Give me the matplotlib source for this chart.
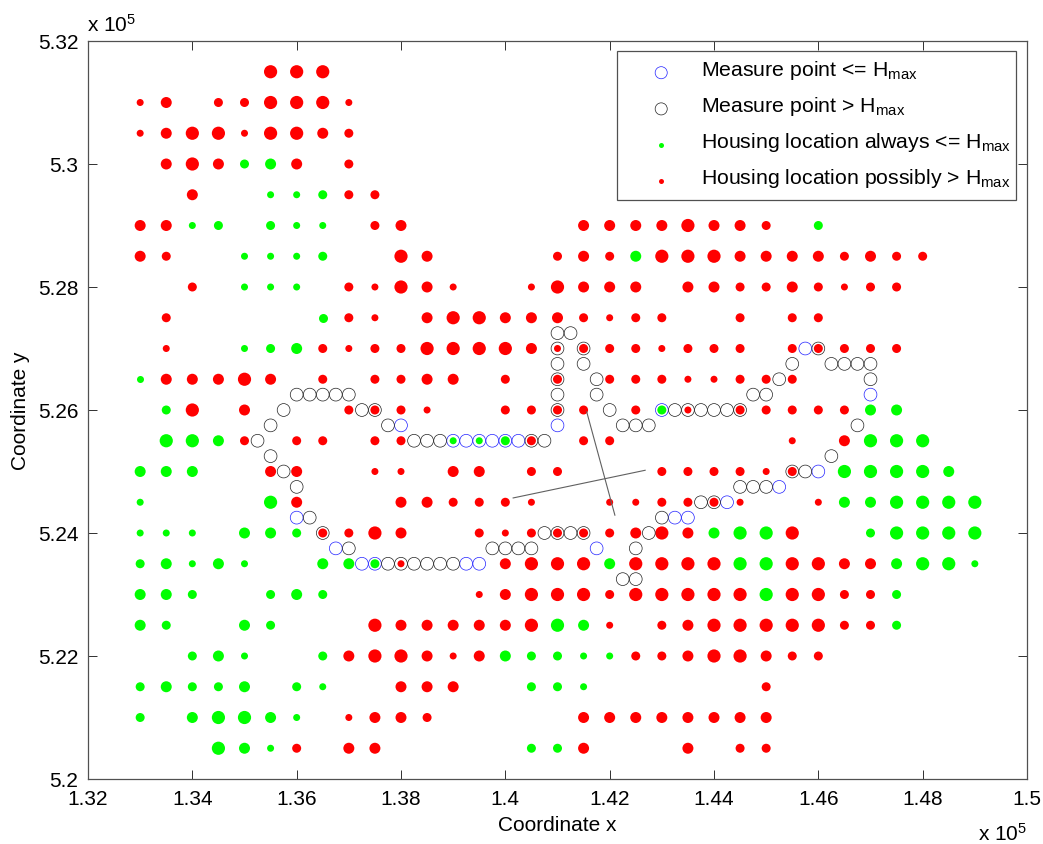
import matplotlib
matplotlib.use('Agg')
import matplotlib.pyplot as plt
from matplotlib.patches import Rectangle

plt.rcParams['font.family'] = ['Liberation Sans', 'DejaVu Sans']
plt.rcParams['mathtext.fontset'] = 'custom'
plt.rcParams['mathtext.rm'] = 'Liberation Sans'
plt.rcParams['mathtext.default'] = 'rm'

# coordinates are in hundreds, sizes are a class from 1 (small) to 4 (big)
red_rows = [
    (5315, [(1355, 4), (1360, 4), (1365, 4)]),
    (5310, [(1330, 1), (1335, 3), (1345, 2), (1350, 2), (1355, 4), (1360, 4), (1365, 4), (1370, 1)]),
    (5305, [(1330, 1), (1335, 3), (1340, 4), (1345, 4), (1350, 1), (1355, 4), (1360, 4), (1365, 3), (1370, 2)]),
    (5300, [(1335, 3), (1340, 4), (1345, 3), (1360, 3), (1370, 2)]),
    (5295, [(1340, 3), (1370, 2), (1375, 2)]),
    (5290, [(1330, 3), (1335, 3), (1375, 2), (1380, 3), (1415, 3), (1420, 3), (1425, 3), (1430, 3),
            (1435, 4), (1440, 3), (1445, 3), (1450, 2)]),
    (5285, [(1330, 3), (1335, 2), (1380, 4), (1385, 3), (1410, 2), (1415, 3), (1420, 2), (1430, 4),
            (1435, 4), (1440, 4), (1445, 3), (1450, 3), (1455, 3), (1460, 3), (1465, 2), (1470, 3),
            (1475, 2), (1480, 2)]),
    (5280, [(1340, 2), (1370, 2), (1375, 1), (1380, 4), (1385, 3), (1390, 1), (1405, 1), (1410, 4),
            (1415, 3), (1420, 3), (1425, 3), (1435, 3), (1440, 3), (1445, 2), (1450, 2), (1455, 3),
            (1460, 2), (1465, 1), (1470, 2), (1475, 2)]),
    (5275, [(1335, 2), (1370, 2), (1375, 1), (1385, 3), (1390, 4), (1395, 4), (1400, 3), (1405, 3),
            (1410, 3), (1415, 2), (1420, 1), (1425, 2), (1430, 2), (1445, 2), (1455, 2), (1460, 2)]),
    (5270, [(1335, 1), (1365, 2), (1370, 1), (1375, 2), (1380, 2), (1385, 4), (1390, 4), (1395, 4),
            (1400, 4), (1405, 3), (1410, 1), (1415, 2), (1420, 2), (1425, 2), (1430, 1), (1435, 2),
            (1440, 2), (1445, 2), (1455, 2), (1460, 2), (1465, 2), (1470, 2), (1475, 2)]),
    (5265, [(1335, 3), (1340, 3), (1345, 3), (1350, 4), (1355, 3), (1365, 2), (1375, 2), (1380, 2),
            (1385, 3), (1390, 3), (1400, 2), (1410, 2), (1420, 2), (1425, 2), (1430, 2), (1435, 1),
            (1440, 1), (1445, 2), (1450, 2), (1455, 2)]),
    (5260, [(1340, 4), (1350, 3), (1370, 2), (1375, 2), (1380, 2), (1385, 1), (1400, 2), (1405, 2),
            (1410, 2), (1415, 2), (1425, 2), (1435, 1), (1445, 2), (1450, 2), (1455, 2), (1460, 2),
            (1465, 2)]),
    (5255, [(1350, 2), (1360, 2), (1365, 2), (1375, 2), (1380, 2), (1405, 2), (1415, 2), (1420, 2),
            (1455, 1), (1465, 3)]),
    (5250, [(1355, 3), (1360, 3), (1375, 1), (1380, 1), (1390, 3), (1395, 3), (1405, 2), (1410, 2),
            (1430, 2), (1435, 2), (1440, 2), (1445, 2), (1450, 1), (1455, 2)]),
    (5245, [(1360, 3), (1380, 3), (1385, 3), (1390, 2), (1395, 2), (1400, 2), (1405, 1), (1420, 1),
            (1425, 1), (1430, 2), (1435, 2), (1440, 2), (1445, 1), (1460, 1)]),
    (5240, [(1365, 2), (1370, 2), (1375, 4), (1380, 3), (1395, 2), (1400, 1), (1405, 2), (1410, 2),
            (1415, 2), (1420, 2), (1425, 3), (1430, 4), (1435, 3), (1455, 4)]),
    (5235, [(1380, 1), (1400, 3), (1405, 4), (1410, 4), (1415, 4), (1425, 4), (1430, 4), (1435, 4),
            (1440, 4), (1455, 4), (1460, 4), (1465, 3), (1470, 3)]),
    (5230, [(1395, 1), (1400, 3), (1405, 4), (1410, 4), (1415, 4), (1420, 2), (1425, 4), (1430, 4),
            (1435, 4), (1440, 4), (1445, 4), (1455, 4), (1460, 4), (1465, 2), (1470, 2)]),
    (5225, [(1375, 4), (1380, 3), (1385, 3), (1390, 3), (1395, 3), (1400, 3), (1405, 4), (1420, 1),
            (1430, 2), (1435, 3), (1440, 4), (1445, 4), (1450, 4), (1455, 4), (1460, 4), (1465, 2),
            (1470, 2)]),
    (5220, [(1370, 3), (1375, 4), (1380, 4), (1385, 3), (1390, 1), (1395, 3), (1425, 2), (1430, 2),
            (1435, 3), (1440, 4), (1445, 4), (1450, 3), (1455, 2), (1460, 2)]),
    (5215, [(1380, 3), (1385, 3), (1390, 3), (1450, 2)]),
    (5210, [(1370, 1), (1375, 3), (1380, 3), (1385, 2), (1415, 3), (1420, 3), (1425, 3), (1430, 3),
            (1435, 3), (1440, 3), (1445, 3), (1450, 3)]),
    (5205, [(1360, 2), (1370, 3), (1375, 3), (1415, 3), (1435, 3), (1445, 2), (1450, 2)]),
]

green_rows = [
    (5300, [(1350, 2), (1355, 3)]),
    (5295, [(1355, 1), (1360, 1), (1365, 2)]),
    (5290, [(1340, 1), (1345, 2), (1355, 2), (1360, 1), (1365, 1), (1460, 2)]),
    (5285, [(1350, 1), (1355, 1), (1360, 1), (1365, 2), (1425, 3)]),
    (5280, [(1350, 1), (1355, 1), (1360, 1)]),
    (5275, [(1365, 2)]),
    (5270, [(1350, 1), (1355, 2), (1360, 3)]),
    (5265, [(1330, 1)]),
    (5260, [(1335, 2), (1430, 2), (1470, 3), (1475, 3)]),
    (5255, [(1335, 4), (1340, 4), (1345, 3), (1390, 1), (1395, 1), (1400, 2), (1470, 4), (1475, 4), (1480, 4)]),
    (5250, [(1330, 3), (1335, 3), (1340, 3), (1465, 4), (1470, 4), (1475, 4), (1480, 4), (1485, 3)]),
    (5245, [(1330, 1), (1355, 4), (1465, 3), (1470, 3), (1475, 4), (1480, 4), (1485, 4), (1490, 4)]),
    (5240, [(1330, 1), (1335, 1), (1340, 1), (1350, 3), (1355, 3), (1360, 2), (1440, 3), (1445, 4),
            (1450, 4), (1470, 2), (1475, 4), (1480, 4), (1485, 4), (1490, 4)]),
    (5235, [(1330, 2), (1335, 3), (1340, 1), (1345, 3), (1350, 1), (1365, 3), (1370, 3), (1375, 2),
            (1420, 3), (1445, 4), (1450, 4), (1475, 3), (1480, 4), (1485, 4), (1490, 1)]),
    (5230, [(1330, 3), (1335, 3), (1340, 2), (1355, 2), (1360, 3), (1365, 2), (1450, 4), (1475, 2)]),
    (5225, [(1330, 3), (1335, 2), (1350, 3), (1355, 2), (1410, 4), (1415, 3), (1475, 2)]),
    (5220, [(1340, 2), (1345, 3), (1350, 1), (1365, 2), (1400, 3), (1405, 2), (1410, 2), (1415, 1), (1420, 1)]),
    (5215, [(1330, 2), (1335, 3), (1340, 2), (1345, 2), (1350, 3), (1360, 2), (1365, 1), (1405, 2), (1410, 2), (1415, 1)]),
    (5210, [(1330, 2), (1340, 3), (1345, 4), (1350, 4), (1355, 3), (1360, 1)]),
    (5205, [(1345, 4), (1350, 3), (1355, 1), (1405, 2), (1410, 2)]),
]

blue_x = [1380, 1390, 1392.5, 1395, 1397.5, 1400, 1402.5, 1360, 1367.5, 1372.5, 1375, 1392.5, 1395,
          1417.5, 1410, 1430, 1442.5, 1432.5, 1435, 1452.5, 1460, 1470, 1457.5]
blue_y = [5257.5, 5255, 5255, 5255, 5255, 5255, 5255, 5242.5, 5237.5, 5235, 5235, 5235, 5235,
          5237.5, 5257.5, 5260, 5245, 5242.5, 5242.5, 5247.5, 5250, 5262.5, 5270]

black_x = [1360, 1362.5, 1365, 1367.5, 1370, 1357.5, 1372.5, 1375, 1355, 1377.5, 1352.5, 1382.5, 1385,
           1387.5, 1405, 1407.5, 1355, 1357.5, 1360, 1362.5, 1365, 1370, 1377.5, 1380, 1382.5, 1385,
           1387.5, 1390, 1397.5, 1400, 1402.5, 1405, 1425, 1407.5, 1410, 1412.5, 1415, 1427.5, 1422.5,
           1425, 1410, 1412.5, 1410, 1415, 1410, 1415, 1410, 1417.5, 1410, 1417.5, 1410, 1420, 1432.5,
           1435, 1437.5, 1440, 1442.5, 1445, 1422.5, 1425, 1427.5, 1437.5, 1440, 1430, 1445, 1447.5,
           1450, 1455, 1457.5, 1462.5, 1467.5, 1447.5, 1450, 1470, 1452.5, 1455, 1462.5, 1465, 1467.5,
           1470, 1460]
black_y = [5262.5, 5262.5, 5262.5, 5262.5, 5262.5, 5260, 5260, 5260, 5257.5, 5257.5, 5255, 5255, 5255,
           5255, 5255, 5255, 5252.5, 5250, 5247.5, 5242.5, 5240, 5237.5, 5235, 5235, 5235, 5235,
           5235, 5235, 5237.5, 5237.5, 5237.5, 5237.5, 5237.5, 5240, 5240, 5240, 5240, 5240, 5232.5,
           5232.5, 5272.5, 5272.5, 5270, 5270, 5267.5, 5267.5, 5265, 5265, 5262.5, 5262.5, 5260, 5260, 5260,
           5260, 5260, 5260, 5260, 5260, 5257.5, 5257.5, 5257.5, 5245, 5245, 5242.5, 5247.5, 5247.5,
           5247.5, 5250, 5250, 5252.5, 5257.5, 5262.5, 5262.5, 5265, 5265, 5267.5, 5267.5, 5267.5, 5267.5,
           5267.5, 5270]

line1_x = [1401.5, 1426.8]
line1_y = [5245.7, 5250.2]
line2_x = [1415.6, 1421.0]
line2_y = [5259.7, 5242.9]

x_ticks = [132000, 134000, 136000, 138000, 140000, 142000, 144000, 146000, 148000, 150000]
x_labels = ['1.32', '1.34', '1.36', '1.38', '1.4', '1.42', '1.44', '1.46', '1.48', '1.5']
y_ticks = [520000, 522000, 524000, 526000, 528000, 530000, 532000]
y_labels = ['5.2', '5.22', '5.24', '5.26', '5.28', '5.3', '5.32']

# marker diameter in pixels -> area in points^2
area = {1: (7 * 0.72) ** 2, 2: (9 * 0.72) ** 2, 3: (11 * 0.72) ** 2, 4: (13.2 * 0.72) ** 2}
ring_area = (12.8 * 0.72) ** 2


def draw_rows(ax, rows, color):
    for y, pts in rows:
        xs = [p[0] * 100 for p in pts]
        ys = [y * 100] * len(pts)
        ax.scatter(xs, ys, s=[area[p[1]] for p in pts], c=color, linewidths=0, zorder=2)


W, H = 1043, 845
fig = plt.figure(figsize=(W / 100, H / 100), dpi=100)
ax = fig.add_axes([88 / W, 1 - 780 / H, (1027 - 88) / W, (780 - 42) / H])

draw_rows(ax, red_rows, '#ff0000')
draw_rows(ax, green_rows, '#00ff00')

blue_ring = ax.scatter([v * 100 for v in blue_x], [v * 100 for v in blue_y], s=ring_area,
                       facecolors='none', edgecolors='#2020ff', linewidths=0.5, zorder=3)
black_ring = ax.scatter([v * 100 for v in black_x], [v * 100 for v in black_y], s=ring_area,
                        facecolors='none', edgecolors='#202020', linewidths=0.5, zorder=3)

ax.plot([v * 100 for v in line1_x], [v * 100 for v in line1_y], color='#606060', lw=0.8, zorder=4)
ax.plot([v * 100 for v in line2_x], [v * 100 for v in line2_y], color='#606060', lw=0.8, zorder=4)

ax.set_xlim(132000, 150000)
ax.set_ylim(520000, 532000)
ax.set_xticks(x_ticks)
ax.set_xticklabels(x_labels)
ax.set_yticks(y_ticks)
ax.set_yticklabels(y_labels)
ax.tick_params(direction='in', length=6.5, width=0.7, top=True, right=True, labelsize=15,
               color='#303030')
ax.tick_params(axis='x', pad=7)
ax.tick_params(axis='y', pad=7)
for s in ax.spines.values():
    s.set_linewidth(0.9)
    s.set_color('#505050')

ax.set_xlabel('Coordinate x', fontsize=15, labelpad=5.5)
ax.set_ylabel('Coordinate y', fontsize=15, labelpad=5.5)

fig.text(87 / W, 1 - 25 / H, r'x 10$^{5}$', fontsize=15, ha='left', va='center')
fig.text(978 / W, 1 - 834 / H, r'x 10$^{5}$', fontsize=15, ha='left', va='center')

# empty scatters so the legend keys can sit a bit below the text like the original
handles = [
    ax.scatter([], [], s=8.7 ** 2, facecolors='none', edgecolors='#2020ff', linewidths=0.5),
    ax.scatter([], [], s=8.7 ** 2, facecolors='none', edgecolors='#202020', linewidths=0.5),
    ax.scatter([], [], s=3.6 ** 2, c='#00ff00', linewidths=0),
    ax.scatter([], [], s=3.6 ** 2, c='#ff0000', linewidths=0),
]
labels = [
    r'Measure point <= H$_{max}$',
    r'Measure point > H$_{max}$',
    r'Housing location always <= H$_{max}$',
    r'Housing location possibly > H$_{max}$',
]
# the frame is its own rectangle, the legend box could not get this tall and this narrow
frame = Rectangle((617 / W, 1 - 201 / H), (1016 - 617) / W, (201 - 52) / H, transform=fig.transFigure,
                  facecolor='white', edgecolor='#505050', linewidth=0.9, zorder=4.5)
ax.add_patch(frame)
leg = ax.legend(handles, labels, loc='upper left', bbox_to_anchor=(617 / W, 1 - 53 / H),
                bbox_transform=fig.transFigure, borderaxespad=0, fontsize=15.3, frameon=False,
                handlelength=3.6, handletextpad=0.09, labelspacing=0.62, borderpad=0.28,
                scatterpoints=1, scatteryoffsets=[0.15])
leg.set_zorder(5)

fig.savefig('out.png', dpi=100)
